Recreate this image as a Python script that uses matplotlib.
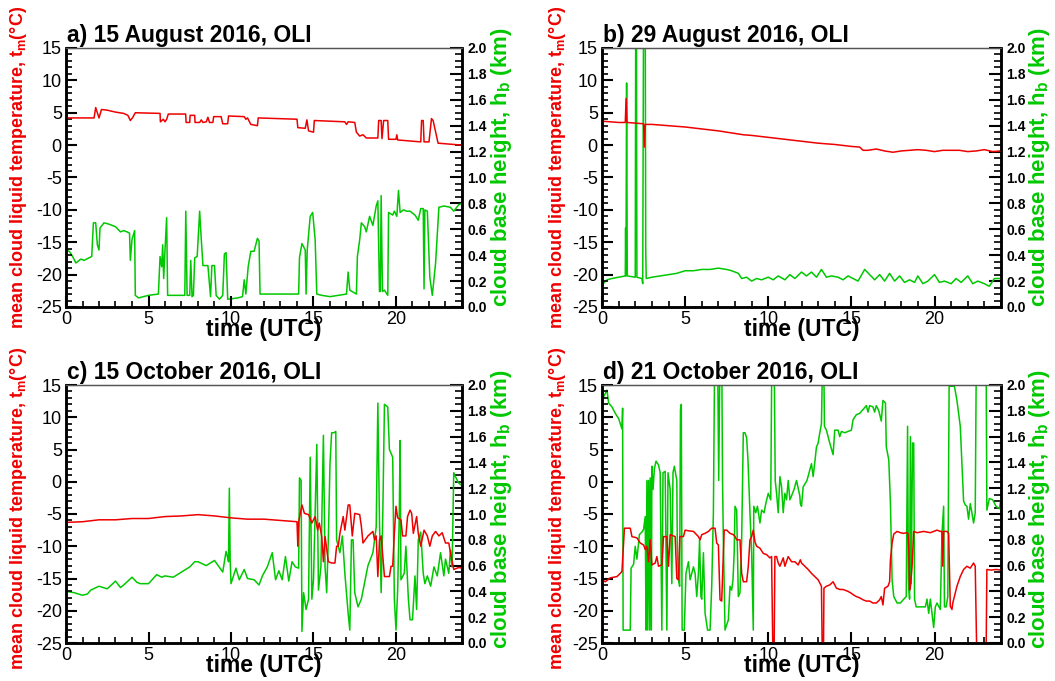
import matplotlib
matplotlib.use("Agg")
import matplotlib.pyplot as plt
from matplotlib.ticker import MultipleLocator, FormatStrFormatter

plt.rcParams['font.family'] = ['Liberation Sans', 'DejaVu Sans']
plt.rcParams['mathtext.fontset'] = 'custom'
plt.rcParams['mathtext.rm'] = 'Liberation Sans'
plt.rcParams['mathtext.bf'] = 'Liberation Sans:bold'
plt.rcParams['mathtext.it'] = 'Liberation Sans:italic'
plt.rcParams['axes.unicode_minus'] = False

titles = ["a) 15 August 2016, OLI", "b) 29 August 2016, OLI",
          "c) 15 October 2016, OLI", "d) 21 October 2016, OLI"]

# ---- panel a: mean cloud liquid temperature (degC) and cloud base height (km)
a_temp = [(0,4.4),(0.1,4.2),(1.7,4.2),(1.8,5.8),(1.9,5.0),(2.0,4.2),(2.15,5.5),(2.5,5.4),(3.0,5.1),
          (3.5,4.9),(3.75,4.6),(3.9,3.8),(4.05,4.3),(4.2,5.0),(5.7,4.9),(5.72,3.6),(5.9,4.0),(6.0,3.6),
          (6.1,4.0),(6.2,4.8),(7.25,4.8),(7.28,3.5),(7.5,3.5),(7.52,4.6),(7.8,4.6),(7.82,3.5),(8.1,3.5),
          (8.2,3.9),(8.3,3.5),(8.5,3.6),(8.6,4.3),(8.7,3.5),(8.9,3.5),(8.95,4.4),(9.4,4.4),(9.5,3.3),
          (9.8,3.3),(9.85,4.5),(10.8,4.4),(10.9,4.0),(11.0,4.2),(11.2,3.2),(11.6,3.0),(11.65,4.2),
          (14.0,4.0),(14.05,2.7),(14.5,2.6),(14.6,3.9),(14.7,2.2),(15.0,2.0),(15.05,3.8),(16.9,3.6),
          (17.0,3.2),(17.1,3.6),(17.5,3.5),(17.6,2.0),(17.8,1.4),(18.0,1.6),(18.2,1.1),(18.9,1.1),
          (18.95,3.8),(19.1,3.8),(19.15,1.0),(19.25,3.8),(19.5,3.8),(19.55,0.9),(20.0,0.9),(20.05,1.6),
          (20.1,0.8),(21.5,0.5),(21.55,3.8),(21.65,3.8),(21.7,0.5),(22.0,0.5),(22.15,4.1),(22.25,3.8),
          (22.55,0.3),(24,0.0)]
a_hb = [(0,0.44),(0.2,0.43),(0.4,0.39),(0.6,0.34),(0.9,0.37),(1.1,0.36),(1.4,0.38),(1.56,0.39),
        (1.66,0.65),(1.8,0.65),(1.9,0.48),(2.0,0.44),(2.06,0.61),(2.3,0.65),(2.6,0.64),(3.0,0.62),
        (3.3,0.58),(3.5,0.59),(3.7,0.58),(3.85,0.57),(3.9,0.36),(4.0,0.52),(4.16,0.59),(4.2,0.09),
        (4.4,0.07),(5.0,0.09),(5.6,0.10),(5.7,0.39),(5.8,0.31),(5.86,0.48),(5.92,0.22),(6.0,0.44),
        (6.1,0.69),(6.16,0.09),(7.2,0.09),(7.26,0.74),(7.34,0.09),(7.5,0.09),(7.56,0.36),(7.64,0.08),
        (7.72,0.09),(7.8,0.38),(7.95,0.39),(8.1,0.74),(8.2,0.52),(8.3,0.32),(8.6,0.32),(8.76,0.08),
        (8.84,0.32),(9.0,0.32),(9.1,0.09),(9.3,0.06),(9.5,0.09),(9.6,0.41),(9.7,0.42),(9.8,0.06),
        (10.4,0.07),(10.7,0.08),(10.8,0.21),(10.9,0.10),(11.04,0.31),(11.2,0.43),(11.4,0.43),
        (11.6,0.53),(11.7,0.51),(11.76,0.10),(14.1,0.10),(14.15,0.38),(14.3,0.49),(14.5,0.44),
        (14.55,0.10),(14.62,0.44),(14.8,0.70),(14.95,0.73),(15.1,0.52),(15.2,0.10),(15.5,0.09),
        (16.0,0.08),(16.5,0.09),(17.0,0.10),(17.1,0.27),(17.2,0.13),(17.6,0.10),(17.66,0.39),
        (17.8,0.52),(17.9,0.65),(18.1,0.62),(18.2,0.58),(18.4,0.70),(18.6,0.63),(18.8,0.78),
        (18.9,0.82),(19.0,0.12),(19.05,0.12),(19.1,0.86),(19.18,0.12),(19.3,0.13),(19.5,0.09),
        (19.55,0.73),(19.8,0.71),(19.9,0.74),(20.05,0.70),(20.15,0.90),(20.25,0.73),(20.45,0.75),
        (20.65,0.74),(20.85,0.74),(21.15,0.71),(21.35,0.67),(21.5,0.76),(21.65,0.76),(21.7,0.14),
        (21.75,0.75),(21.9,0.74),(22.05,0.23),(22.2,0.09),(22.4,0.34),(22.6,0.77),(22.9,0.78),
        (23.3,0.77),(23.5,0.74),(23.8,0.79),(24,0.80)]

# ---- panel b
b_temp = [(0,3.7),(0.5,3.6),(1.0,3.5),(1.4,3.5),(1.45,7.2),(1.5,3.5),(2.0,3.4),(2.5,3.3),(2.55,-0.3),
          (2.6,3.2),(3.0,3.2),(4.0,3.0),(5.0,2.8),(6.0,2.5),(7.0,2.2),(8.0,1.8),(8.5,1.6),(9.0,1.5),
          (10.0,1.2),(11.0,0.9),(12.0,0.6),(13.0,0.3),(13.5,0.2),(14.0,0.1),(15.0,-0.2),(15.5,-0.3),
          (15.7,-0.8),(16.0,-0.8),(16.5,-0.6),(17.0,-0.9),(17.5,-1.1),(18.0,-0.9),(18.5,-0.8),
          (19.0,-0.7),(19.5,-0.8),(20.0,-1.0),(20.5,-0.8),(21.0,-0.8),(21.5,-0.8),(22.0,-1.0),
          (22.5,-0.9),(23.0,-0.7),(23.5,-1.0),(24,-0.9)]
b_hb = [(0,0.17),(0.3,0.21),(0.6,0.22),(1.0,0.23),(1.4,0.24),(1.42,0.61),(1.44,0.24),(1.48,1.73),
        (1.52,0.24),(2.0,0.23),(2.03,2.3),(2.07,2.3),(2.1,0.23),(2.4,0.22),(2.45,0.18),(2.5,2.3),
        (2.6,2.3),(2.63,0.45),(2.66,0.22),(3.0,0.23),(3.5,0.24),(4.0,0.25),(4.5,0.26),(5.0,0.28),
        (5.5,0.28),(6.0,0.29),(6.5,0.29),(7.0,0.30),(7.5,0.29),(7.8,0.28),(8.2,0.26),(8.4,0.22),
        (8.7,0.23),(9.0,0.20),(9.3,0.22),(9.6,0.21),(10.0,0.23),(10.3,0.21),(10.6,0.24),(11.0,0.21),
        (11.3,0.25),(11.6,0.22),(12.0,0.27),(12.3,0.24),(12.6,0.27),(12.9,0.23),(13.2,0.29),
        (13.5,0.23),(13.8,0.24),(14.2,0.23),(14.5,0.21),(14.8,0.24),(15.1,0.22),(15.4,0.20),
        (15.8,0.29),(16.1,0.25),(16.4,0.21),(16.7,0.25),(17.0,0.20),(17.3,0.26),(17.6,0.20),
        (17.9,0.24),(18.2,0.19),(18.5,0.21),(18.8,0.19),(19.0,0.24),(19.3,0.18),(19.6,0.20),
        (20.0,0.25),(20.3,0.19),(20.6,0.20),(21.0,0.18),(21.3,0.22),(21.6,0.19),(22.0,0.24),
        (22.3,0.18),(22.6,0.20),(23.0,0.18),(23.3,0.16),(23.6,0.22),(24,0.22)]

# ---- panel c
c_temp = [(0,-6.3),(1,-6.2),(2,-5.9),(3,-5.9),(4,-5.7),(5,-5.7),(6,-5.4),(7,-5.3),(8,-5.1),(9,-5.3),
          (10,-5.6),(11,-5.8),(12,-5.8),(13,-6.0),(14.0,-6.2),(14.05,-10.0),(14.1,-6.2),(14.3,-3.6),
          (14.45,-4.9),(14.7,-5.1),(14.9,-6.4),(15.1,-5.4),(15.25,-7.5),(15.35,-6.4),(15.5,-8.5),
          (15.6,-12.4),(15.7,-8.5),(15.9,-12.4),(16.1,-12.6),(16.3,-12.6),(16.4,-10.0),(16.5,-10.0),
          (16.6,-8.0),(16.8,-5.4),(16.9,-7.5),(17.1,-3.6),(17.2,-3.6),(17.35,-8.4),(17.5,-4.9),
          (17.8,-5.1),(17.9,-6.9),(18.0,-9.5),(18.3,-8.4),(18.6,-7.7),(18.7,-9.0),(18.8,-8.4),
          (18.9,-14.7),(19.0,-9.0),(19.1,-8.4),(19.3,-14.7),(19.6,-14.7),(19.7,-13.1),(19.8,-13.1),
          (19.9,-8.0),(20.0,-3.8),(20.1,-5.6),(20.3,-5.9),(20.4,-8.4),(20.6,-8.4),(20.7,-5.4),
          (20.85,-4.4),(20.95,-4.9),(21.05,-8.0),(21.25,-5.4),(21.35,-8.0),(21.5,-10.0),(21.7,-7.5),
          (21.9,-8.4),(22.05,-10.0),(22.2,-8.4),(22.4,-7.7),(22.6,-8.4),(22.8,-7.9),(23.0,-9.5),
          (23.2,-9.5),(23.3,-11.0),(23.5,-13.6),(23.8,-13.3),(24,-13.4)]
c_hb = [(0,0.40),(0.5,0.39),(1.0,0.37),(1.3,0.38),(1.5,0.41),(2.0,0.44),(2.5,0.42),(3.0,0.48),
        (3.3,0.43),(3.5,0.45),(4.0,0.51),(4.3,0.47),(4.5,0.46),(5.0,0.46),(5.5,0.53),(5.8,0.51),
        (6.0,0.52),(6.5,0.51),(7.0,0.55),(7.5,0.59),(7.8,0.63),(8.0,0.63),(8.5,0.60),(9.0,0.64),
        (9.5,0.55),(9.7,0.71),(9.8,0.66),(9.85,0.63),(9.9,1.20),(9.95,0.64),(10.0,0.46),(10.3,0.58),
        (10.5,0.49),(10.8,0.57),(11.0,0.50),(11.4,0.49),(11.7,0.45),(11.9,0.52),(12.2,0.59),
        (12.5,0.70),(12.7,0.49),(12.9,0.56),(13.1,0.49),(13.3,0.67),(13.5,0.48),(13.7,0.63),
        (13.9,0.59),(14.1,0.58),(14.15,1.28),(14.25,1.26),(14.3,0.09),(14.4,0.39),(14.55,0.26),
        (14.7,0.34),(14.8,1.44),(14.9,0.34),(15.0,0.49),(15.2,1.54),(15.3,0.41),(15.45,0.59),
        (15.6,1.61),(15.7,0.59),(15.8,0.39),(15.9,0.81),(16.0,1.39),(16.1,1.63),(16.25,1.63),
        (16.35,1.64),(16.4,0.80),(16.6,0.70),(16.75,0.83),(16.9,0.54),(17.1,0.23),(17.2,0.10),
        (17.3,0.80),(17.4,0.80),(17.5,0.39),(17.7,0.28),(17.9,0.34),(18.3,0.60),(18.6,0.70),
        (18.8,0.90),(18.9,1.86),(19.0,0.93),(19.1,0.39),(19.2,1.0),(19.3,1.85),(19.5,1.83),
        (19.6,1.50),(19.8,1.44),(19.9,0.34),(20.0,0.10),(20.1,0.41),(20.2,1.0),(20.25,1.57),
        (20.3,0.49),(20.5,0.54),(20.6,0.75),(20.75,0.34),(20.85,0.18),(21.0,0.18),(21.15,0.52),
        (21.25,0.26),(21.35,0.80),(21.5,0.86),(21.65,0.54),(21.75,0.46),(21.9,0.52),(22.1,0.44),
        (22.3,0.59),(22.5,0.52),(22.7,0.70),(22.9,0.52),(23.0,0.65),(23.2,0.54),(23.3,0.72),
        (23.4,0.59),(23.5,1.32),(23.6,1.29),(23.8,1.24),(24,1.22)]

# ---- panel d
d_temp = [(0,-15.2),(0.2,-15.5),(0.5,-14.9),(0.9,-14.7),(1.1,-14.2),(1.2,-13.9),(1.35,-7.2),(1.7,-7.2),
          (1.8,-8.5),(2.1,-8.7),(2.3,-9.5),(2.5,-9.8),(2.6,-10.5),(2.7,-10.0),(2.8,-12.4),(2.9,-9.0),
          (3.0,-12.9),(3.2,-12.6),(3.3,-11.6),(3.4,-13.1),(3.6,-12.9),(3.7,-8.5),(3.9,-8.5),
          (4.0,-13.1),(4.1,-8.2),(4.4,-8.5),(4.5,-15.0),(4.6,-15.2),(4.68,-8.5),(4.9,-8.5),(5.0,-7.5),
          (5.2,-7.6),(5.5,-7.7),(5.8,-8.5),(5.9,-9.0),(6.0,-8.2),(6.2,-8.0),(6.4,-7.7),(6.6,-7.2),
          (6.8,-7.2),(6.9,-9.5),(7.0,-9.8),(7.1,-18.3),(7.2,-18.5),(7.35,-7.5),(7.5,-7.5),(7.7,-8.0),
          (7.9,-8.2),(8.0,-8.5),(8.1,-9.0),(8.3,-9.0),(8.4,-14.2),(8.5,-15.5),(8.7,-15.5),(8.8,-13.1),
          (8.9,-9.0),(9.0,-8.5),(9.1,-7.5),(9.2,-9.3),(9.3,-10.0),(9.5,-10.3),(9.7,-11.1),(9.9,-11.3),
          (10.1,-11.8),(10.2,-11.6),(10.28,-27),(10.35,-27),(10.4,-11.6),(10.5,-11.6),(10.6,-12.6),
          (10.7,-13.1),(10.9,-11.8),(11.0,-13.1),(11.2,-11.6),(11.4,-12.4),(11.6,-12.4),(11.8,-12.9),
          (11.93,-12.1),(12.0,-12.6),(12.2,-13.1),(12.4,-13.6),(12.6,-14.2),(12.8,-14.7),(13.0,-15.2),
          (13.2,-16.2),(13.25,-27),(13.32,-27),(13.35,-16.5),(13.5,-16.2),(13.7,-16.0),(13.9,-15.5),
          (14.1,-16.5),(14.3,-16.7),(14.5,-16.7),(14.8,-17.0),(15.0,-17.3),(15.1,-17.5),(15.3,-17.8),
          (15.5,-18.0),(15.7,-18.3),(15.9,-18.5),(16.1,-18.5),(16.3,-18.8),(16.5,-18.8),(16.7,-18.3),
          (16.8,-17.8),(16.9,-19.1),(17.0,-16.5),(17.2,-16.2),(17.3,-15.5),(17.35,-12.1),(17.45,-9.5),
          (17.55,-8.1),(17.75,-7.7),(17.95,-7.9),(18.15,-8.0),(18.3,-7.9),(18.4,-8.0),(18.45,-10.0),
          (18.5,-16.8),(18.55,-16.3),(18.65,-13.1),(18.75,-7.7),(18.95,-7.9),(19.35,-7.7),(19.75,-7.9),
          (19.95,-7.7),(20.15,-7.5),(20.35,-7.7),(20.45,-7.7),(20.5,-13.1),(20.55,-7.7),(20.75,-7.7),
          (20.85,-8.0),(20.95,-19.3),(21.05,-19.8),(21.1,-18.8),(21.35,-16.2),(21.55,-14.7),
          (21.75,-13.6),(21.95,-13.1),(22.15,-13.4),(22.35,-12.6),(22.45,-13.1),(22.55,-28),(23.1,-28),
          (23.15,-13.6),(23.4,-13.7),(23.7,-13.6),(24,-13.7)]
d_hb = [(0,1.87),(0.1,1.91),(0.3,1.96),(0.4,1.86),(0.6,1.83),(0.8,1.78),(1.0,1.74),(1.15,1.68),
        (1.2,1.66),(1.24,1.82),(1.27,0.10),(1.4,0.10),(1.7,0.10),(1.75,0.58),(1.9,0.61),(2.0,0.75),
        (2.1,0.65),(2.25,0.84),(2.4,0.86),(2.5,0.88),(2.6,0.98),(2.65,0.10),(2.7,1.26),(2.75,0.10),
        (2.8,1.26),(2.87,0.10),(2.9,1.28),(2.97,0.10),(3.0,1.37),(3.07,1.19),(3.15,1.35),(3.25,1.41),
        (3.4,1.38),(3.5,1.32),(3.6,0.10),(3.67,1.32),(3.8,1.33),(3.9,0.10),(3.97,1.32),(4.1,1.19),
        (4.2,0.46),(4.27,1.32),(4.35,1.37),(4.5,1.26),(4.53,0.75),(4.6,0.49),(4.67,0.44),(4.72,1.81),
        (4.77,1.85),(4.82,0.10),(4.95,0.10),(5.05,0.54),(5.2,0.63),(5.3,0.49),(5.4,0.54),(5.5,0.59),
        (5.6,0.54),(5.7,0.36),(5.8,0.54),(5.87,0.80),(5.95,0.36),(6.0,0.34),(6.1,0.70),(6.2,0.23),
        (6.35,0.10),(6.5,0.10),(6.6,0.44),(6.7,1.01),(6.78,2.3),(6.95,2.3),(7.02,1.26),(7.1,2.3),
        (7.2,2.3),(7.25,1.26),(7.3,0.80),(7.4,0.10),(7.6,0.18),(7.7,0.44),(7.8,0.41),(7.88,0.49),
        (7.95,0.70),(8.0,1.06),(8.1,1.03),(8.2,0.36),(8.3,0.39),(8.4,0.80),(8.5,1.63),(8.6,1.63),
        (8.7,1.59),(8.78,1.42),(8.9,1.01),(9.0,0.70),(9.1,0.10),(9.13,1.06),(9.25,1.01),(9.35,1.06),
        (9.5,0.93),(9.6,1.03),(9.75,1.01),(9.85,1.08),(10.0,1.16),(10.15,1.11),(10.22,2.3),
        (10.35,2.3),(10.42,1.26),(10.5,1.16),(10.6,1.01),(10.7,1.29),(10.8,1.21),(10.9,1.01),
        (11.0,1.16),(11.1,1.11),(11.2,1.26),(11.3,1.11),(11.4,1.14),(11.55,1.19),(11.7,1.26),
        (11.9,1.14),(11.93,1.08),(12.0,1.06),(12.1,1.21),(12.33,1.26),(12.5,1.34),(12.6,1.39),
        (12.7,1.29),(12.8,1.40),(12.9,1.52),(13.0,1.55),(13.1,1.63),(13.2,1.70),(13.28,2.3),
        (13.33,2.3),(13.38,1.68),(13.5,1.65),(13.6,1.60),(13.7,1.55),(13.9,1.46),(14.0,1.65),
        (14.2,1.65),(14.3,1.60),(14.4,1.64),(14.6,1.63),(14.8,1.64),(15.0,1.65),(15.1,1.73),
        (15.3,1.77),(15.5,1.78),(15.7,1.81),(15.9,1.84),(16.0,1.79),(16.1,1.84),(16.3,1.83),
        (16.4,1.79),(16.5,1.84),(16.65,1.80),(16.8,1.72),(16.9,1.88),(17.05,1.86),(17.1,1.52),
        (17.25,1.42),(17.35,1.08),(17.45,0.49),(17.55,0.36),(17.75,0.31),(17.95,0.31),(18.15,0.34),
        (18.3,0.36),(18.38,1.68),(18.43,0.49),(18.5,0.34),(18.55,1.60),(18.6,0.46),(18.68,1.55),
        (18.75,1.55),(18.8,0.34),(18.9,0.28),(19.05,0.28),(19.25,0.28),(19.45,0.28),(19.55,0.34),
        (19.65,0.23),(19.75,0.34),(19.85,0.23),(19.95,0.12),(20.05,0.28),(20.15,0.31),(20.35,0.26),
        (20.45,0.85),(20.55,1.06),(20.6,0.28),(20.7,0.28),(20.8,0.36),(20.88,1.99),(21.2,1.99),
        (21.35,1.88),(21.55,1.68),(21.75,1.10),(21.85,1.07),(21.95,1.06),(22.05,0.96),(22.15,1.08),
        (22.25,1.01),(22.35,0.93),(22.45,1.01),(22.52,2.3),(23.1,2.3),(23.15,1.03),(23.3,1.12),
        (23.5,1.11),(23.7,1.06),(23.9,1.04),(24,1.12)]

temps = [a_temp, b_temp, c_temp, d_temp]
heights = [a_hb, b_hb, c_hb, d_hb]

RED = '#ee0000'
GREEN = '#00c800'

W, H = 1055, 681
fig = plt.figure(figsize=(W / 100, H / 100), dpi=100)

# axes boxes in pixels: left, top, right, bottom
boxes = [(66, 48, 462, 307), (602, 48, 1001, 307),
         (66, 385, 462, 643), (602, 385, 1001, 643)]
left_label_x = [19, 557, 19, 557]
right_label_x = [502, 1040, 502, 1040]
label_y = [0.54, 0.54, 0.52, 0.52]

for i in range(4):
    l, t, r, b = boxes[i]
    ax = fig.add_axes([l / W, 1 - b / H, (r - l) / W, (b - t) / H])
    ax2 = ax.twinx()

    tt, tv = zip(*temps[i])
    ht, hv = zip(*heights[i])
    ax2.plot(ht, hv, color=GREEN, lw=1.1)
    ax.plot(tt, tv, color=RED, lw=1.1)

    ax.set_zorder(ax2.get_zorder() + 1)
    ax.patch.set_visible(False)

    ax.set_xlim(0, 24)
    ax.set_ylim(-25, 15)
    ax2.set_ylim(0, 2.0)

    ax.xaxis.set_major_locator(MultipleLocator(5))
    ax.xaxis.set_minor_locator(MultipleLocator(1))
    ax.yaxis.set_major_locator(MultipleLocator(5))
    ax.yaxis.set_minor_locator(MultipleLocator(1))
    ax2.yaxis.set_major_locator(MultipleLocator(0.2))
    ax2.yaxis.set_minor_locator(MultipleLocator(0.05))
    ax2.yaxis.set_major_formatter(FormatStrFormatter('%.1f'))

    ax.tick_params(axis='both', which='major', direction='in', length=8, width=1.5,
                   labelsize=13, top=False, right=False, pad=3)
    ax.tick_params(axis='both', which='minor', direction='in', length=4, width=1.2,
                   top=False, right=False)
    ax2.tick_params(axis='y', which='major', direction='in', length=9, width=1.5,
                    labelsize=10, pad=4)
    ax2.tick_params(axis='y', which='minor', direction='in', length=5, width=1.2)
    for lab in ax2.get_yticklabels():
        lab.set_fontweight('bold')

    for a_ in (ax, ax2):
        for s in ('left', 'bottom', 'right'):
            a_.spines[s].set_linewidth(1.8)
            a_.spines[s].set_color('black')
        a_.spines['top'].set_linewidth(0.9)
        a_.spines['top'].set_color('#555555')

    hpx = b - t
    wpx = r - l
    ax.text(0.003, 1 + 6 / hpx, titles[i], transform=ax.transAxes, ha='left', va='baseline',
            fontsize=16.5, fontweight='bold')
    ax.text(0.5, -29 / hpx, 'time (UTC)', transform=ax.transAxes, ha='center', va='baseline',
            fontsize=16.5, fontweight='bold')
    ax.text((left_label_x[i] - l) / wpx, label_y[i],
            r'mean cloud liquid temperature, t$_\mathbf{m}$(°C)', transform=ax.transAxes,
            rotation=90, ha='center', va='center', fontsize=13, fontweight='bold', color=RED)
    ax.text((right_label_x[i] - l) / wpx, label_y[i],
            r'cloud base height, h$_\mathbf{b}$ (km)', transform=ax.transAxes,
            rotation=90, ha='center', va='center', fontsize=16, fontweight='bold', color=GREEN)

fig.savefig('out.png', dpi=100)
